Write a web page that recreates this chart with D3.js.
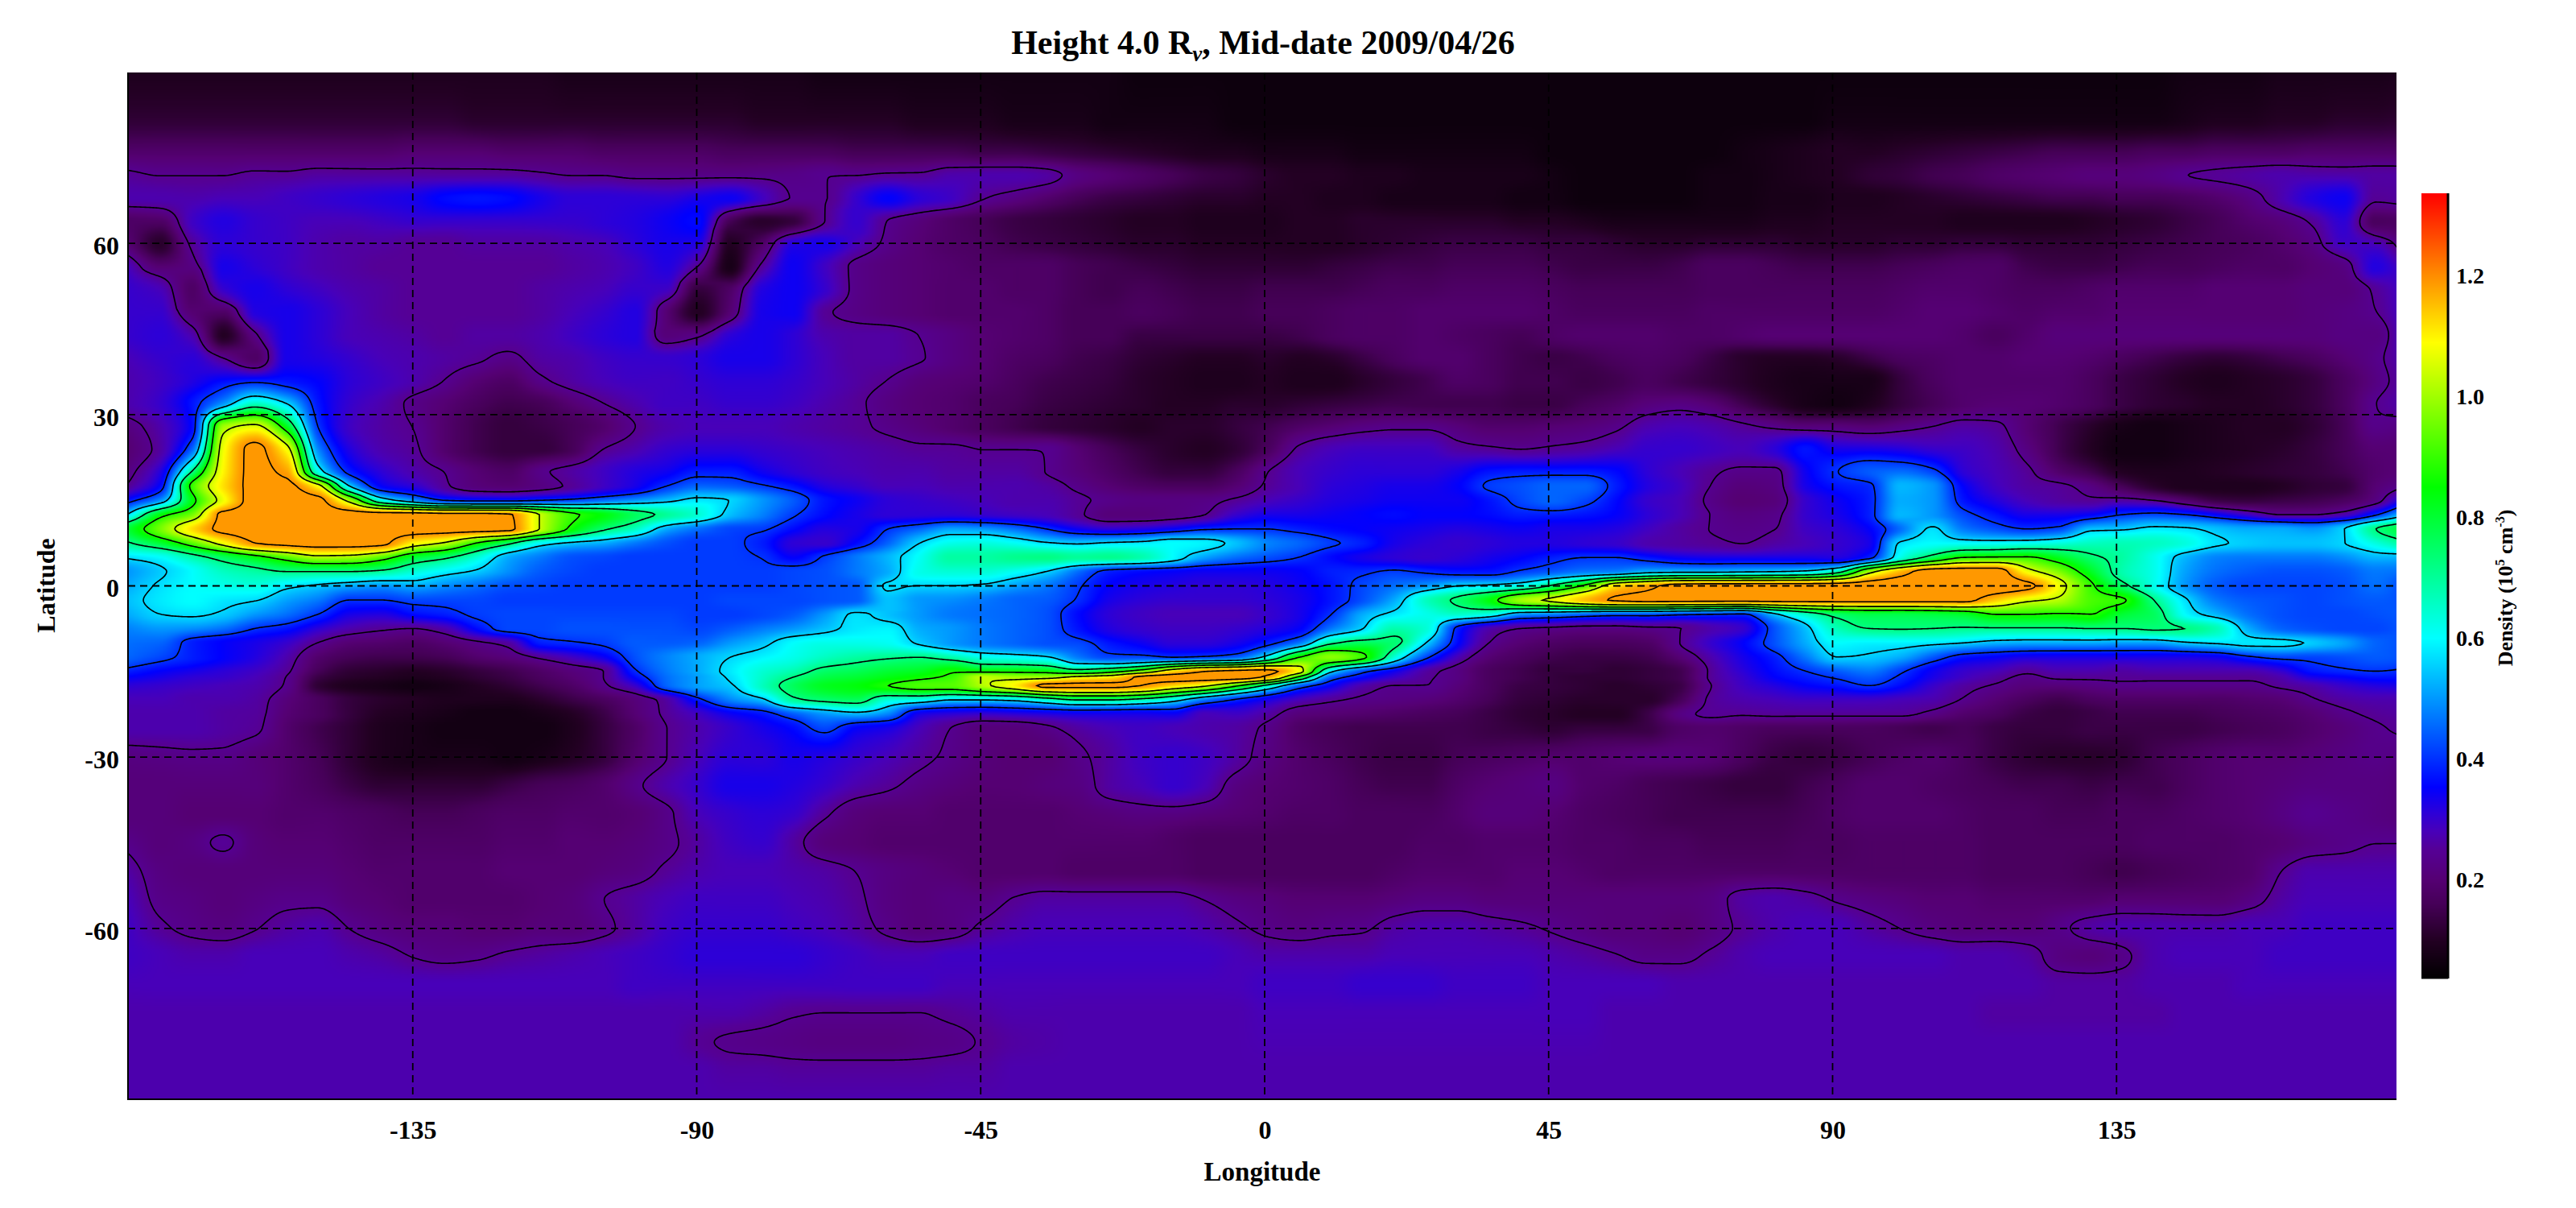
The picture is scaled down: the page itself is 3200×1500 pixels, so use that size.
<!DOCTYPE html>
<html><head><meta charset="utf-8">
<script src="https://cdn.jsdelivr.net/npm/d3@7/dist/d3.min.js"></script>
<style>html,body{margin:0;padding:0;background:#fff}svg{display:block}text{font-family:"Liberation Serif",serif;font-weight:bold;fill:#000}</style>
</head><body><svg id="chart" width="3200" height="1500"></svg>
<script>
const lonTicks=[-135,-90,-45,0,45,90,135];
const latTicks=[60,30,0,-30,-60];
const barTicks=[0.2,0.4,0.6,0.8,1.0,1.2];
const contourLevels=[0.241,0.401,0.561,0.721,0.881,1.041,1.201];
const colorStops=[0.036,0.10,0.16,0.20,0.25,0.28,0.31,0.353,0.60,0.85,1.09,1.3375];
const colorValues=["#000000","#230023","#460058","#550073","#550096","#4800b9","#2d00d7","#0000ff","#00ffff","#00ff00","#ffff00","#ff0000"];
const lons=d3.range(-180,181,5);
const lonGridStart=-180.13, lonGridEnd=181.1;
const lats=[90,82,76,72,68,64,60,56,52,48,44,40,36,32,28,24,20,17.5,15,12.5,10,7.5,5,2.5,0,-2.5,-5,-7.5,-10,-12.5,-15,-16,-17.5,-20,-22.5,-25,-30,-35,-40,-45,-50,-55,-60,-65,-70,-75,-80,-85,-90];
// density in units of 0.01 x 10^5 cm^-3; one row per latitude, one value per longitude
const density=[
[9,9,9,9,9,9, 9,9,9,9,9,9, 9,9,8,8,8,8, 8,8,8,8,7,7, 7,7,7,7,7,7, 7,7,6,6,6,6, 6,6,6,6,6,6, 6,6,6,6,6,6, 6,6,6,6,6,6, 6,6,6,6,6,6, 6,6,6,6,6,7, 7,7,8,8,8,8, 9],
[12,12,12,12,12,12, 12,12,12,12,12,11, 11,11,11,11,11,11, 11,11,10,10,10,10, 10,9,9,9,8,8, 8,7,7,7,7,6, 6,6,6,6,6,6, 6,6,6,6,6,6, 6,6,6,6,6,6, 7,7,7,7,7,7, 7,7,7,7,7,8, 9,9,10,10,11,11, 12],
[19,19,19,19,19,19, 19,19,19,20,20,20, 19,19,19,18,18,18, 18,17,17,17,17,16, 16,16,16,15,15,14, 13,12,11,10,9,9, 8,8,8,7,7,7, 7,7,7,6,6,6, 6,6,6,7,8,9, 10,10,11,12,13,14, 15,16,16,16,17,17, 18,18,18,19,19,19, 19],
[25,24,24,24,25,25, 26,26,26,26,26,26, 26,25,24,24,23,23, 23,23,23,23,24,24, 25,25,27,27,27,26, 22,20,18,16,14,13, 11,10,10,9,9,8, 8,8,8,7,6,6, 6,6,7,7,8,9, 10,12,13,15,16,18, 19,20,21,21,22,24, 25,26,27,27,27,26, 26],
[27,27,27,28,28,29, 30,31,32,33,36,37, 36,33,31,31,31,31, 33,34,29,24,24,30, 35,31,29,24.5,22,19, 16,14,13,12,11,11, 10,10,9,9,8,8, 8,8,7,7,6,6, 6,6,7,7,8,8, 9,9,10,11,12,13, 14,15,15,16,16,17, 19,22,27,32,34,25, 26],
[18,18,29,32,30,29, 28,28,29,30,30,30, 30,30,30,31,32,34, 36,16,11,13,24,30, 24,21,18,16,14,13, 12,11,10,10,9,9, 9,10,10,11,11,11, 11,11,10,10,9,8, 8,8,8,8,9,9, 10,10,10,10,9,9, 9,9,10,11,12,14, 16,19,21,25,31,17, 18],
[20,11,25,31,30,29, 27,26,26,25,25,26, 26,26,27,28,31,33, 32,10,18,32,33,28, 23,20,18,17,15,14, 13,12,11,11,10,10, 10,10,10,11,12,13, 14,14,14,13,13,12, 11,11,12,12,12,11, 11,11,12,12,13,13, 12,12,12,13,14,15, 16,17,19,22,29,28, 20],
[28,20,22,33,31,29, 27,26,25,25,25,25, 25,25,26,27,29,32, 24,8,25,34,29,23, 21,20,19,18,18,18, 16,15,14,13,12,12, 12,12,13,14,15,15, 16,16,16,15,14,14, 14,15,17,17,16,15, 15,15,16,17,18,18, 15,14,14,15,16,16, 17,18,18,20,22,32, 27],
[30,28,18,30,33,31, 29,27,26,25,25,25, 25,26,27,28,30,29, 13,18,32,34,30,23, 21,20,19,19,18,18, 16,15,16,15,14,14, 15,15,15,16,17,17, 18,18,18,17,16,16, 16,16,17,17,17,17, 17,17,18,19,19,18, 17,17,18,19,19,19, 20,20,20,21,21,25, 30],
[30,30,20,18,32,33, 31,28,26,25,25,25, 25,26,28,30,32,20, 10,20,33,34,25,22.5, 21,20,19,19,19,18, 16,16,17,16,15,15, 16,16,17,18,18,19, 19,19,19,18,17,17, 17,17,18,18,18,18, 18,18,19,20,20,19, 18,19,19,20,20,20, 20,20,20,21,22,24, 30],
[30,31,27,10,23,33, 31,28,27,26,25,26, 26,27,29,31,32,21, 23,31,33,31,27,26, 26,24,22,20,19,18, 16,16,14,14,14,14, 14,15,17,18,18,19, 18,17,16,18,19,19, 19,18,18,19,20,20, 20,20,20,20,19,17, 19,21,21,21,21,21, 21,21,21,21,22,22, 30],
[28,30,31,24,18,33, 32,30,28,27,26,25, 23,26,27,29,30,30, 31,33,33,31,28,26, 26,24.5,22,20,18,17, 15,14,12,11,10,10, 11,10,11,14,17,19, 19,17,15,14,15,17, 18,17,14,11,10,10, 11,14,17,18,19,19, 20,20,19,17,15,13, 12,13,15,17,20,23, 28],
[27,29,32,36,38,37, 35,31,29,27,24,20, 18,23,26,28,29,29, 30,31,31,30,28,26, 24,21,20,19,17,15, 14,13,11,10,9,9, 10,9,9,11,13,15, 18,17,15,15,14,15, 17,15,13,11,9,8, 8,8,13,17,19,19, 19,19,17,14,12,10, 9,10,11,13,17,22, 27],
[27,30,37,50,66,56, 37,30,27,23,20,17, 15,16,20,24,27,29, 29,30,30,29,27,25, 22,20,19,17,16,14, 13,12,11,10,10,11, 11,12,13,14,15,15, 15,15,14,14,16,18, 21,22,20,15,11,8, 7,9,13,16,19,20, 20,19,17,14,12,11, 10,10,11,13,17,24, 27],
[22,27,36,100,106,82, 40,29,26,24,19,15, 13,14,16,19,24,27, 28,28,28,27,26,25, 23,21,19,17,15,13, 12,11,10,11,11,13, 15,18,20,22,23,23, 21,19,19,20,21,23, 27,28,27,25,23,21, 21,20,22,24,26,25, 20,15,11,8,7,8, 9,10,10,12,16,23, 22],
[20,26,45,108,122,108, 48,32,27,25,19,15, 13,13,16,24,27,30, 31,31,30,29,28,27, 26,25,25,24,24,24, 20,16,13,11,10,12, 17,25,28,29,29,29, 26,25,24,25,26,28, 30,30,29,28,31,37, 33,33,32,30,29,27, 22,15,10,7,7,8, 9,10,11,13,16,20, 20],
[22,32,72,110,122,118, 62,38,31,27,24,20, 18,23,26,29,32,34, 38,38,34,31,29,28, 27,27,26,26,26,24, 21,18,15,13,13,17, 24,28,30,31,31,31, 33,37,38,38,38,36, 31,28,25,23,23,34, 40,44,46,42,31,28, 25,19,15,10,9,9, 10,11,12,13,15,19, 21],
[25,36,90,112,122,122, 108,56,35,31,25,21, 20,22,25,29,33,40, 45,44,41,37,32,30, 28,28,27,27,27,26, 23,20,18,17,17,20, 25,28,31,32,33,33, 35,41,43,45,45,38, 32,29,24,21,22,33, 37,39,53,50,35,29, 26,25,22,16,11,9, 9,9,10,12,13,20, 24],
[37,50,84,108,123,123, 122,100,63,50,40,38, 38,40,42,46,50,54, 58,56,50,44,37,34, 31,30,29,28,27,27, 25,23,22,22,22.5,25, 28,30,32,33,34,34, 34,37,42,45,42,36, 30,28,23,20,21,30, 34,38,52,50,37,32, 28,26,25,26,24,19, 14,13,14,15,17,22, 36],
[57,84,96,122,123,123, 123,123,123,123,122,122, 121,104,90,84,76,70, 64,54,48,41,36,33, 31,31,31,30,29,28, 25,21,21,22,24,30, 33,33,34,35,36,35, 35,36,38,38,37,35, 31,28,24,22,23,30, 33,38,53,50,42,37, 33,33,35,40,42,40, 35,29,24,24,27,39, 57],
[80,96,112,122,123,123, 123,123,123,123,123,123, 122,104,86,74,66,52, 46,42,41,36,32,33, 40,45,51,50,46,40, 34,31,32,35,39,40, 40,38,36,35,34,33, 32,33,34,33,33,32, 29,26,24,23,24,29, 31,35,46,57,47,43, 40,42,54,55,58,57, 54,52,52,50,56,72, 80],
[71,80,93,108,120,122, 123,123,122,110,103,88, 75,60,55,52,47,43, 41,41,38,31,30,36, 45,56,62,63,61,57, 55,57,58,60,59,54, 48,45,41,38,33,31, 30,31,32,32,31,30, 27,26,25,24,26,28, 30,33,57,60,60,60, 61,63,66,67,66,63, 57,55,54,54,56,63, 71],
[57,60,68,76,84,93, 101,100,93,80,74,64, 52,47,43,42,41,41, 41,41,40,35,41,47, 53,61,69,69,71,72, 70,71,68,60,51,46, 43,40,36,33,31,30, 31,33,35,38,40,40, 37,34,33,33,33,33, 32,38,62,76,88,89, 89,82,74,69,62,53, 48,47,47,47,49,53, 53],
[50,55,60,66,69,72, 72,72,70,64,59,55, 49,44,42,41,41,41, 41,41,41,42,43,47, 52,62,64,64,61,56, 46,38,36,35,34,34, 34,35,38,39,41,39, 37,37,41,44,47,48, 53,54,54,55,56,58, 68,100,116,124,124,124, 108,97,82,68,62,51, 46,44,43,43,44,47, 46],
[52,57,60,62,63,58, 55,52,50,52,49,46, 43,42,41,41,41,41, 41,41,41,42,43,44, 57,56,56,55,51,47, 41,35,33,32,31,31, 32,34,37,42,46,50, 56,58,62,74,90,112, 118,123,124,124,124,124, 124,124,124,124,124,124, 122,108,90,75,62,50, 44,42,42,42,43,46, 42],
[54,58,60,58,56.5,51, 47,40,40,42,42,42, 41,41,41,41,41,41, 41,42,42,42,43,44, 54,50,49,47,45,44, 39.5,33,31,30,30,30, 31,33,37,43,52,66, 74,84,100,106,115,121, 122,122,122,122,122,122, 122,122,122,122,122,114, 106,102,92,89,72,57, 47,44,43,42,43,44, 43],
[52,56,57,55,50,46, 40,33,32,36,38,41, 42,42,42,42,42,42, 41,41,42,44,50,57, 54,50,47,46,45,43, 36,31,29,28,28,28, 30,33,40,52,58,62, 65,62,50,48,45,43, 43,41,40,39,54,66, 75,78,78,79,81,88, 88,87,88,80,76,60, 53,46,43,42,42,43, 44],
[48,50,49,46,40,37, 31,27,25,24,27,36, 42,42,43,43,43,43, 42,44,47,50,54,58, 59,52,50,47,45,43, 37,32,30,29,29,30, 32,35,47,56,68,64, 38,27,24,23,22,22, 23,24,27,30,43,54, 67,72,72.5,72,71,71, 71,71,72,72,73,72, 67,52,45,43,42,42, 44],
[46,45,38,35,33,30, 24,20,19,18,20,23, 26,38,39.5,41,44,44, 45,50,54,60,62,62, 61,55,50,47,45,43, 42,37,34,31,31,33, 38,47,70,76,74,56, 36,24,20,18,17,17, 18,24,30,35,43,52, 60,59,59,58,56,53, 52,52,52,51,51,55, 57,58,58,55,51,45, 43],
[45,42,38,35,32,27, 19,16,15,15,16,19, 21,25,29,34,43,48, 52,56,59,62,66,69, 71,72,68,62,60,57, 47,42,42,40,41,44, 60,88,98,90,64,42, 28,20,17,15,14,14, 15,20,27,33,38,47, 56,55,52,44,37,35, 33,33,33,33,33,33, 34,39,42,42,43,44, 43],
[38,35,33,31,29,25, 16,12,11,10,11,13, 15,18,21,24,39,47, 52,58,64,68,75,77, 80,82,87,86,86,85, 78,84,95,112,120,122, 122,108,58,42,34,26, 22,17,15,13,13,12, 13,15,25,31,36,40, 44,47,41,34,30,28, 25,27,27,26,27,27, 27,27,30,37,39,40, 39],
[35,33,31,30,28,24, 14,11,10,9,10,12, 14,17,20,24,36,46, 51,57,65,72,78,80, 83,86,90,103,100,100, 107,110,122,124,124,124, 118,85,45,36,30,25, 22,17,15,13,12,12, 13,15,25,30,35,38, 41,44,39,33,29,26, 23,25,25,25,25,25, 25,25,27,33,35,37, 37],
[31,30,29,28,27,23.5, 12,9,8,7,8,10, 12,15,18,23,30,45, 51,55,66,76,82,84, 88,92,93,102,110,122, 122,122,120,113,106,90, 68,45,35,27,24,24, 21,17,14,13,12,11, 12,14,24,29,32,35, 37,40,36,30,26,23.5, 21,21,22,23,23,23, 23,23,25,27,30,32, 33],
[28,28,27,27,26,21, 17,13,11,10,9,9, 9,11,14,17,21,26, 38,48,54,70,74,76, 64,62,56,56,58,65, 72,72,68,60,47,39, 33,28,25,23,22,21, 19,16,13,12,11,11, 11,16,25,27,28,29, 29,29,28,27,23.5,20, 17,15,17,18,18,18, 18,19,20,23.5,26,27, 27],
[27,27,27,26,25.5,20, 17,13,10,9,8,7, 7,8,10,14,20,25, 29,34,37,44,50,53, 48,33,31,30,31,32, 33,33,33,34,28,29, 26,21,20,19,18,17, 16,14,12,11,10,10, 14,22,25,24.5,25,25, 25,25,25,22.5,19,17, 14,13,14,15,15,15, 16,17,18,20,23,25, 26],
[27,27,27,26,25,19, 15,12,9,8,7,7, 7,7,9,13,18,24, 27,30,33,36,42,35, 33,28,24,21,21,23, 26,28,29,28,27,26, 23,18,16,15,15,15, 15,14,13,12,13,13, 14,18,19,18,17,17, 17,17,16,15,16,14, 13,13,14,14,14,14, 15,16,17,19,21,23.5, 25],
[22,22.5,23,23,21,19, 16,12,9,8,8,8, 7,8,10,13,19,24, 28,31,31,33,32,30, 28,25.5,23,21,20,20, 23,26,29,30,29,26, 22,19,17,15,14,14, 16,17,18,19,19,20, 21,21,20,17,14,13, 14,16,18,19,17,14, 12,11,11,12,15,17, 19,20,20,21,22,23, 22],
[21,21,21,21,21,19, 17,14,12,12,12,12, 14,16,17,19,23,27, 30,33,33,32,30,27, 25,22.5,21,20,20,21, 22,26,28,30,28,22, 20,19,18,16,15,15, 18,20,21,22,19,18, 16,15,14,13,13,15, 17,19,19,18,17,16, 15,15,14,15,15,17, 19,20,21,22,22,22, 21],
[21,21,20,20,20,19, 19,18,17,16,16,17, 18,18,19,19,20,23, 28,30,31,30,25,21, 20,20,19,19,19,19, 20,21,22,22,21,20, 19,18,18,17,17,17, 19,21,21,20,18,17, 16,15,15,15,15,16, 18,19,19,19,18,17, 17,16,16,17,17,18, 19,20,22,24,23,22, 21],
[23,21,22,25,21,20, 20,19,18,18,18,18, 19,19,20,20,21,23, 26,29,30,26,21,20, 19,19,19,19,19,19, 19,19,19,18,17,17, 17,17,17,17,17,18, 18,19,19,19,18,18, 17,17,16,16,16,17, 17,18,18,18,18,17, 17,17,17,17,18,18, 18,19,20,22,23,24, 24],
[26,22,21,21,21,21, 21,20,19,19,19,19, 20,20,20,21,22,25, 27,28,28,27,26,24, 22,21,20,19,19,19, 18,18,18,18,17,17, 17,17,17,17,18,19, 19,19,20,20,19,18, 18,18,18,18,18,18, 18,18,18,18,18,17, 17,17,16,15,16,17, 18,19,24,27,27,27, 27],
[28,23,22,21,22,23, 23,21,20,19,19,19, 19,20,21,24,26,28, 29,29,29,28,27,25, 22,21,22,22,24.5,26, 26,26,26,26,24,22, 21,20,20,20,21,22, 22,21,21,21,21,21, 21,21,22,26,27,26, 23.5,22,21,20,20,19, 19,19,19,20,20,20, 20,22,26,28,28,28, 28],
[29,25,23,22,23.8,26, 27,24,22,21,21,20, 20,21,21,23,26,29, 30,30,30,29,28,26, 23,21,22,25,27,28, 28,28,28,28,27,25, 23,22,23,23.5,26,27, 27,26,25,23.5,22,21, 21,20,22,25,27,28, 28,26,24,22,21,21, 21,23,26,27,27,27, 27,28,28,29,29,29, 29],
[29,28,27,27,28,28, 28,27,26,24,23,23.5, 25,26,27,28,29,30, 31,31,31,31,30,29, 28,28,29,29,29,29, 29,29,29,29,29,28, 27,27,27,27,28,28, 28,28,28,27,26,24.5, 23,23,25,27,28,28, 28,28,28,28,27,27, 26,22,21,23,27,28, 28,28,29,29,29,29, 29],
[28,28,28,28,28,28, 28,28,28,28,28,28, 28,28,28,28,29,29, 29,29,29,29,29,29, 29,29,28,28,28,28, 28,28,28,28,28,28, 29,29,29,30,30,30, 29,29,29,28,28,28, 28,27,27,27,27,27, 27,27,27,27,27,27, 27,26,26,26,27,27, 27,28,28,28,28,28, 28],
[27,27,27,27,27,27, 27,27,27,27,27,27, 27,27,27,27,27,27, 27,27,26,24.5,24,24, 24,24,25,26,27,27, 27,27,27,27,27,27, 28,28,28,28,28,28, 28,28,28,28,28,27, 27,27,27,27,27,27, 27,27,27,27,27,26, 26,26,26,26,26,27, 27,27,27,27,27,27, 27],
[27,27,27,27,27,27, 27,27,27,27,27,27, 27,27,27,27,27,27, 25,23.5,23,22.5,22,22, 22,22.5,23,24.5,26,26.5, 27,27,27,27,27,27, 27.5,27.5,27.5,27.5,27.5,27.5, 27.5,27.5,27.5,27.5,27.5,27, 27,27,27,27,27,27, 27,27,27,27,27,27, 27,27,27,27,27,27, 27,27,27,27,27,27, 27],
[27,27,27,27,27,27, 27,27,27,27,27,27, 27,27,27,27,27,27, 27,26,26,25.5,25.5,25.5, 25.5,25.5,26,26,27,27, 27,27,27,27,27,27, 27,27,27,27,27,27, 27,27,27,27,27,27, 27,27,27,27,27,27, 27,27,27,27,27,27, 27,27,27,27,27,27, 27,27,27,27,27,27, 27],
[27,27,27,27,27,27, 27,27,27,27,27,27, 27,27,27,27,27,27, 27,27,27,27,27,27, 27,27,27,27,27,27, 27,27,27,27,27,27, 27,27,27,27,27,27, 27,27,27,27,27,27, 27,27,27,27,27,27, 27,27,27,27,27,27, 27,27,27,27,27,27, 27,27,27,27,27,27, 27]
];
density.forEach((r,i)=>{if(r.length!==lons.length)throw new Error("row "+i+" lat "+lats[i]+" has "+r.length);});
if(density.length!==lats.length)throw new Error("rows "+density.length);

const plot={left:159,right:2977,top:90,bottom:1365};
const bar={left:3008,right:3041,top:240,bottom:1215};
const x=d3.scaleLinear().domain([-180,180]).range([160,2982]);
const y=d3.scaleLinear().domain([90,-90]).range([89.5,1365.5]);
const color=d3.scaleLinear().domain(colorStops).range(colorValues).clamp(true);
const svg=d3.select("#chart");

// monotone cubic resampling of one profile onto a finer grid (display smoothing only)
function resample(xs,ys,out){
  const n=xs.length,h=[],s=[],m=new Array(n);
  for(let i=0;i<n-1;i++){h[i]=xs[i+1]-xs[i];s[i]=(ys[i+1]-ys[i])/h[i];}
  m[0]=s[0];m[n-1]=s[n-2];
  for(let i=1;i<n-1;i++){
    if(s[i-1]*s[i]<=0)m[i]=0;
    else{const a=h[i-1]+2*h[i],b=2*h[i-1]+h[i];m[i]=(a+b)/(a/s[i-1]+b/s[i]);}
  }
  let k=0;
  return out.map(v=>{
    while(k<n-2&&v>xs[k+1])k++;
    const t=(v-xs[k])/h[k],t2=t*t,t3=t2*t;
    return (2*t3-3*t2+1)*ys[k]+(t3-2*t2+t)*h[k]*m[k]+(-2*t3+3*t2)*ys[k+1]+(t3-t2)*h[k]*m[k+1];
  });
}
const W=1441,H=721;
const fineLon=d3.range(W).map(i=>-180+i*0.25);
const fineLat=d3.range(H).map(j=>j*0.25-90); // ascending for resampling
const asc=lats.slice().reverse();
const cols=lons.map((_,c)=>{
  const prof=density.map(r=>r[c]/100).reverse();
  return resample(asc,prof,fineLat);
});
const field=new Float64Array(W*H);
for(let j=0;j<H;j++){
  const row=resample(lons,cols.map(c=>c[H-1-j]),fineLon);
  for(let i=0;i<W;i++)field[i+j*W]=row[i];
}
// image
const cv=document.createElement("canvas");cv.width=W;cv.height=H;
const ctx=cv.getContext("2d");const img=ctx.createImageData(W,H);
const plateau=1.19;
for(let k=0;k<W*H;k++){
  const c=d3.rgb(color(Math.min(field[k],plateau)));
  img.data[k*4]=c.r;img.data[k*4+1]=c.g;img.data[k*4+2]=c.b;img.data[k*4+3]=255;
}
ctx.putImageData(img,0,0);
svg.append("defs").append("clipPath").attr("id","plotClip").append("rect")
  .attr("x",plot.left).attr("y",plot.top).attr("width",plot.right-plot.left).attr("height",plot.bottom-plot.top);
const gridLeft=x(lonGridStart),gridRight=x(lonGridEnd);
svg.append("g").attr("clip-path","url(#plotClip)").append("image").attr("x",gridLeft).attr("y",plot.top)
  .attr("width",gridRight-gridLeft).attr("height",plot.bottom-plot.top)
  .attr("preserveAspectRatio","none").attr("href",cv.toDataURL("image/png"));

// contours
const contourGen=d3.contours().size([W,H]).thresholds(contourLevels).smooth(true);
const gx=d3.scaleLinear().domain([0.5,W-0.5]).range([gridLeft,gridRight]);
const gy=d3.scaleLinear().domain([0.5,H-0.5]).range([plot.top,plot.bottom]);
const path=d3.geoPath(d3.geoTransform({point(a,b){this.stream.point(gx(a),gy(b));}}));
svg.append("g").attr("clip-path","url(#plotClip)").selectAll("path")
  .data(contourGen(Array.from(field))).join("path")
  .attr("d",path).attr("fill","none").attr("stroke","#000").attr("stroke-width",1.6);

// grid
const grid=svg.append("g").attr("stroke","#000").attr("stroke-width",1.8).attr("stroke-dasharray","9,6");
grid.selectAll("line.v").data(lonTicks).join("line").attr("class","v")
  .attr("x1",d=>x(d)).attr("x2",d=>x(d)).attr("y1",plot.top).attr("y2",plot.bottom);
grid.selectAll("line.h").data(latTicks).join("line").attr("class","h")
  .attr("y1",d=>y(d)).attr("y2",d=>y(d)).attr("x1",plot.left).attr("x2",plot.right);
svg.append("path").attr("d",`M${plot.left},${plot.top}V${plot.bottom}H${plot.right}`).attr("fill","none").attr("stroke","#000").attr("stroke-width",2);

// axes
const ax=svg.append("g").attr("transform",`translate(0,${plot.bottom})`)
  .call(d3.axisBottom(x).tickValues(lonTicks).tickSize(0).tickPadding(26).tickFormat(String));
const ay=svg.append("g").attr("transform",`translate(${plot.left},0)`)
  .call(d3.axisLeft(y).tickValues(latTicks).tickSize(0).tickPadding(11).tickFormat(String));
[ax,ay].forEach(a=>{a.select(".domain").remove();a.selectAll("text").attr("font-size",32).attr("font-family","Liberation Serif").attr("font-weight","bold");});
ay.selectAll("text").attr("dy","0.42em");

// colour bar
const barY=d3.scaleLinear().domain([colorStops[0],colorStops[colorStops.length-1]]).range([bar.bottom,bar.top]);
const barG=svg.append("g");
const barSteps=d3.range(bar.top,bar.bottom);
barG.selectAll("rect").data(barSteps).join("rect")
  .attr("x",bar.left).attr("width",bar.right-bar.left).attr("y",d=>d).attr("height",1.5)
  .attr("fill",d=>color(barY.invert(d+0.5)));
barG.append("line").attr("x1",bar.right).attr("x2",bar.right).attr("y1",bar.top).attr("y2",bar.bottom).attr("stroke","#000").attr("stroke-width",3);
const ab=svg.append("g").attr("transform",`translate(${bar.right},0)`)
  .call(d3.axisRight(barY).tickValues(barTicks).tickSize(0).tickPadding(10).tickFormat(d3.format(".1f")));
ab.select(".domain").remove();
ab.selectAll("text").attr("font-size",28).attr("font-family","Liberation Serif").attr("font-weight","bold");

// texts
const title=svg.append("text").attr("x",1569).attr("y",67).attr("text-anchor","middle").attr("font-size",42);
title.append("tspan").text("Height 4.0 R");
title.append("tspan").attr("font-size",27).attr("font-style","italic").attr("dy",9).text("v");
title.append("tspan").attr("dy",-9).text(", Mid-date 2009/04/26");
svg.append("text").attr("x",1568).attr("y",1466).attr("text-anchor","middle").attr("font-size",33).text("Longitude");
svg.append("text").attr("transform","translate(68,727) rotate(-90)").attr("text-anchor","middle").attr("font-size",32).text("Latitude");
const dens=svg.append("text").attr("transform","translate(3121,730) rotate(-90)").attr("text-anchor","middle").attr("font-size",26);
dens.append("tspan").text("Density (10");
dens.append("tspan").attr("font-size",16).attr("dy",-10).text("5");
dens.append("tspan").attr("dy",10).text(" cm");
dens.append("tspan").attr("font-size",16).attr("dy",-10).text("-3");
dens.append("tspan").attr("dy",10).text(")");
</script></body></html>
